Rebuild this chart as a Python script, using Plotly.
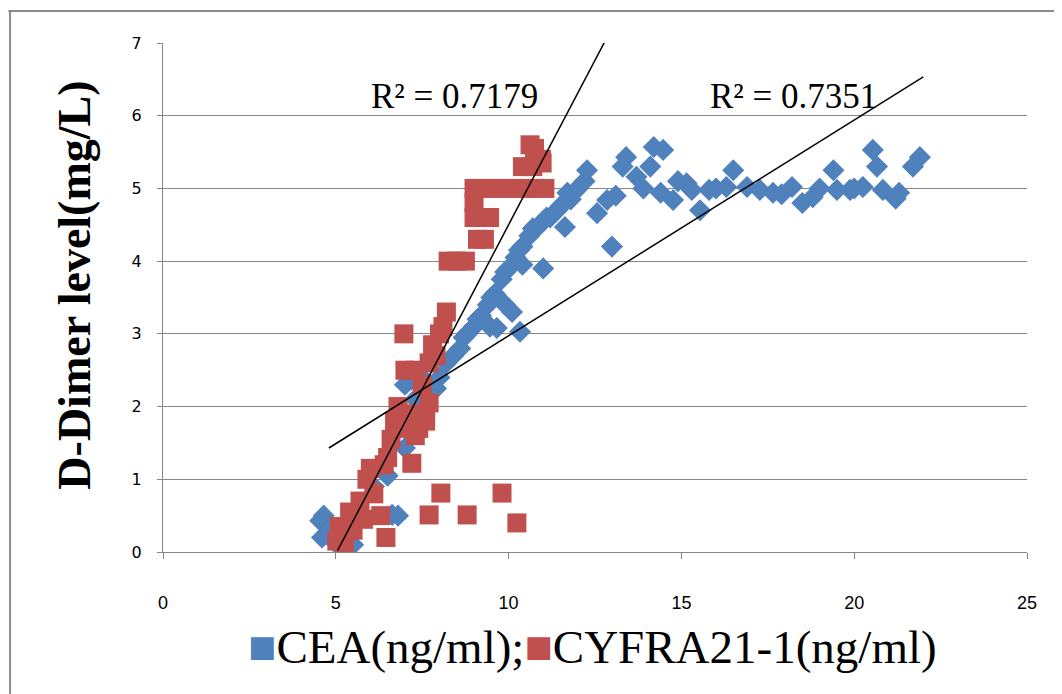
import plotly.graph_objects as go

# ---------------- data ----------------
cea_x = [4.55, 4.65, 4.6, 4.9, 5.0, 5.2, 5.5, 5.8, 6.1, 6.5, 6.63, 6.8, 7.0, 7.18, 7.0, 7.3, 7.6, 7.9, 8.0, 8.2,
         8.4, 8.6, 8.8, 9.0, 9.2, 9.4, 9.6, 9.8, 10.0, 10.2, 10.4, 10.6, 10.8, 11.0, 11.2, 11.4, 11.6, 11.8, 12.0, 12.2,
         8.7, 9.1, 9.5, 9.9, 10.3, 10.7, 11.1, 11.5, 11.9,
         9.46, 9.66, 10.33, 9.9, 10.1, 10.4, 11.0, 11.63, 12.56, 12.99,
         11.7, 12.27, 12.85, 13.3, 13.4, 13.7, 14.2, 14.47, 14.1, 13.9, 14.4, 14.9, 14.76, 15.15, 15.3, 15.54, 15.8,
         16.5, 16.3, 16.9, 17.27, 17.65, 18.2, 18.5, 18.8, 19.4, 19.5, 19.88, 20.25, 20.54, 20.66, 20.83, 21.2, 21.3,
         21.7, 21.9, 16.0, 17.9, 19.0, 20.0, 13.1]
cea_y = [0.43, 0.5, 0.2, 0.3, 0.12, 0.25, 0.1, 0.5, 0.9, 1.05, 0.51, 0.5, 1.43, 2.37, 2.3, 2.1, 2.35, 2.25, 2.4, 2.6,
         2.7, 2.8, 3.0, 3.1, 3.25, 3.4, 3.55, 3.75, 3.9, 4.05, 4.2, 4.35, 4.45, 4.55, 4.6, 4.7, 4.8, 4.85, 5.0, 5.1,
         2.95, 3.2, 3.5, 3.85, 4.15, 4.45, 4.6, 4.75, 4.95,
         3.1, 3.08, 3.03, 3.4, 3.3, 3.95, 3.9, 4.47, 4.66, 4.2,
         4.94, 5.25, 4.84, 5.3, 5.43, 5.16, 5.57, 5.53, 5.3, 5.0, 4.94, 5.1, 4.84, 5.07, 4.98, 4.7, 4.98,
         5.25, 5.02, 5.02, 4.98, 4.94, 5.02, 4.8, 4.88, 5.25, 4.98, 4.98, 5.02, 5.53, 5.3, 4.98, 4.86, 4.94,
         5.3, 5.43, 5.0, 4.92, 5.0, 5.0, 4.9]

cyfra_x = [5.03, 5.1, 5.25, 5.4, 5.5, 5.7, 5.8, 5.9, 6.0, 6.1, 6.3, 6.45, 6.4, 6.5, 6.6, 6.7, 6.8, 6.9, 7.2, 7.1,
           7.3, 7.4, 7.5, 7.6, 7.7, 7.0, 7.3, 7.5, 7.7, 7.9, 7.8, 8.0, 8.1, 8.2, 6.97,
           7.7, 8.04, 8.8, 9.81, 10.24,
           8.25, 8.5, 8.75, 9.1, 9.3, 9.0, 9.25, 9.45, 9.0, 9.0, 9.3, 9.6, 9.9, 10.2, 10.5, 10.8, 11.05,
           10.4, 10.7, 10.97, 10.62, 10.75, 10.95]
cyfra_y = [0.15, 0.35, 0.1, 0.55, 0.3, 0.7, 0.45, 1.0, 1.15, 0.8, 0.5, 0.2, 1.2, 1.3, 1.55, 1.8, 2.0, 1.7, 1.22, 1.9,
           1.6, 1.7, 1.9, 1.8, 2.05, 2.5, 2.5, 2.3, 2.6, 2.7, 2.85, 3.0, 3.1, 3.3, 3.0,
           0.51, 0.81, 0.51, 0.81, 0.40,
           4.0, 4.0, 4.0, 4.3, 4.3, 4.6, 4.6, 4.6, 4.8, 5.0, 5.0, 5.0, 5.0, 5.0, 5.0, 5.0, 5.0,
           5.3, 5.3, 5.35, 5.6, 5.55, 5.4]

# linear trendlines: slope, intercept, x-start, x-end
cea_fit = [0.2967, 0.006, 4.8, 22.0]
cyfra_fit = [0.905, -4.55, 5.05, 13.2]
cea_r2 = "R² = 0.7351"
cyfra_r2 = "R² = 0.7179"

x_ticks = [0, 5, 10, 15, 20, 25]
y_ticks = [0, 1, 2, 3, 4, 5, 6, 7]

BLUE = "#4F81BD"
RED = "#C0504D"
GRID = "#878787"

fig = go.Figure()
fig.add_trace(go.Scatter(x=cea_x, y=cea_y, mode="markers", name="CEA(ng/ml)",
                         marker=dict(symbol="diamond", size=17, color=BLUE, line=dict(width=0))))
fig.add_trace(go.Scatter(x=cyfra_x, y=cyfra_y, mode="markers", name="CYFRA21-1(ng/ml)",
                         marker=dict(symbol="square", size=19, color=RED, line=dict(width=0))))

for fit in (cea_fit, cyfra_fit):
    s, b, x0, x1 = fit
    fig.add_trace(go.Scatter(x=[x0, x1], y=[s * x0 + b, s * x1 + b], mode="lines",
                             line=dict(color="#000000", width=1.5), showlegend=False, hoverinfo="skip"))

fig.update_layout(
    width=1062, height=694,
    margin=dict(l=155, r=43, t=35, b=150),
    paper_bgcolor="white", plot_bgcolor="white",
    showlegend=False,
    font=dict(family="Liberation Sans, Arial", color="#000000"),
    xaxis=dict(range=[0, 25], tickvals=x_ticks, showgrid=False, zeroline=False,
               showline=True, linecolor=GRID, linewidth=1, ticks="outside", ticklen=6, tickcolor=GRID,
               tickfont=dict(family="Liberation Sans Narrow, Liberation Sans", size=18), ticklabelstandoff=28),
    yaxis=dict(range=[0, 7], tickvals=y_ticks, showgrid=True, gridcolor=GRID, gridwidth=1, zeroline=False,
               showline=True, linecolor=GRID, linewidth=1, ticks="outside", ticklen=5, tickcolor=GRID,
               tickfont=dict(family="DejaVu Sans", size=16), ticklabelstandoff=12),
)

# y-axis title
fig.add_annotation(xref="paper", yref="paper", x=-0.102, y=0.525, text="<b>D-Dimer level(mg/L)</b>",
                   textangle=-90, showarrow=False, xanchor="center", yanchor="middle",
                   font=dict(family="Liberation Serif, Times New Roman", size=46))

fig.add_annotation(x=8.42, y=6.27, text=cyfra_r2, showarrow=False, xanchor="center", yanchor="middle",
                   font=dict(family="Liberation Serif, Times New Roman", size=35))
fig.add_annotation(x=18.23, y=6.27, text=cea_r2, showarrow=False, xanchor="center", yanchor="middle",
                   font=dict(family="Liberation Serif, Times New Roman", size=35))

legend_text = (f"<span style='color:{BLUE}'>■</span>CEA(ng/ml);"
               f"<span style='color:{RED}'>■</span>CYFRA21-1(ng/ml)")
fig.add_annotation(xref="paper", yref="paper", x=0.497, y=-0.186, text=legend_text, showarrow=False,
                   xanchor="center", yanchor="middle",
                   font=dict(family="Liberation Serif, Times New Roman", size=47))

# outer chart border (visible top and left edges)
fig.add_shape(type="line", xref="paper", yref="paper", x0=-0.179, x1=1.08, y0=1.063, y1=1.063,
              line=dict(color="#8a8a8a", width=2))
fig.add_shape(type="line", xref="paper", yref="paper", x0=-0.177, x1=-0.177, y0=1.063, y1=-0.3,
              line=dict(color="#8a8a8a", width=2))

fig.write_html("out.html")
